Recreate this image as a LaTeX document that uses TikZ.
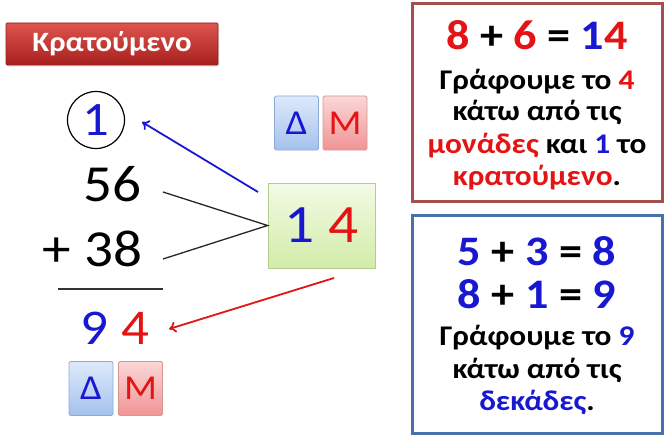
\documentclass[tikz,border=0pt]{standalone}
\usepackage{fontspec}
\setmainfont{Carlito}[FakeStretch=1.1]
\usetikzlibrary{arrows.meta,shadows}
\definecolor{myred}{RGB}{228,20,20}
\definecolor{myblue}{RGB}{24,24,210}
\definecolor{bannerTop}{RGB}{222,84,78}
\definecolor{bannerBot}{RGB}{168,32,30}
\definecolor{dTop}{RGB}{222,233,250}
\definecolor{dBot}{RGB}{164,194,236}
\definecolor{dBorder}{RGB}{140,170,215}
\definecolor{mTop}{RGB}{250,215,215}
\definecolor{mBot}{RGB}{240,148,148}
\definecolor{mBorder}{RGB}{215,150,148}
\definecolor{gTop}{RGB}{244,250,230}
\definecolor{gBot}{RGB}{210,236,168}
\definecolor{gBorder}{RGB}{180,204,142}
\definecolor{redFrame}{RGB}{165,80,78}
\definecolor{blueFrame}{RGB}{74,112,170}
\begin{document}
\begin{tikzpicture}[x=1pt,y=-1pt,
  digit/.style={font=\fontsize{52}{60}\selectfont, inner sep=0},
  lbox/.style={minimum width=44, minimum height=54, inner sep=0, rounded corners=1.5, font=\fontsize{35}{40}\selectfont, line width=0.8},
  dbox/.style={lbox, top color=dTop, bottom color=dBot, draw=dBorder, text=myblue},
  mbox/.style={lbox, top color=mTop, bottom color=mBot, draw=mBorder, text=myred},
  eqn/.style={font=\fontsize{42}{48}\selectfont\bfseries, anchor=base, inner sep=0},
  txt/.style={font=\fontsize{28.5}{32}\selectfont\bfseries, anchor=base, inner sep=0},
  frame/.style={line width=3, minimum width=250, minimum height=197, inner sep=0, fill=white},
  thinline/.style={line width=1.3, draw=black!85},
  arr/.style={line width=1.8, -{To[length=7pt,width=11pt]}}
]
\useasboundingbox (0,0) rectangle (667,436);

% banner
\node[minimum width=212, minimum height=42, inner sep=0, top color=bannerTop, bottom color=bannerBot,
      draw=bannerBot!90!black, line width=0.6, rounded corners=1,
      drop shadow={shadow xshift=1pt, shadow yshift=-1.5pt, opacity=0.3},
      text=white, font=\fontsize{28}{32}\selectfont\bfseries] (banner) at (112,44) {Κρατούμενο};

% left column
\node[draw, circle, line width=1.2, minimum size=57, inner sep=0] (carry) at (96,120) {};
\node[digit, font=\fontsize{48}{56}\selectfont, text=myblue] (one) at (96,120) {1};
\node[digit] (n56) at (112.5,184) {56};
\node[digit] (n38) at (92.5,249) {+ 38};
\coordinate (barL) at (58,289);
\coordinate (barR) at (163,289);
\draw[line width=1.3, black!80] (barL) -- (barR);
\node[digit, font=\fontsize{50}{56}\selectfont] (res) at (115,328) {\textcolor{myblue}{9} \textcolor{myred}{4}};

\node[dbox] (d2) at (91,388.5) {Δ};
\node[mbox] (m2) at (140.5,388.5) {Μ};

% top boxes
\node[dbox] (d1) at (296.5,123) {Δ};
\node[mbox] (m1) at (345,123) {Μ};

% green box
\node[minimum width=107, minimum height=85, inner sep=0, top color=gTop, bottom color=gBot, draw=gBorder,
      line width=0.8, font=\fontsize{54}{60}\selectfont] (sum) at (321.5,225.5) {\textcolor{myblue}{1} \textcolor{myred}{4}};

% connectors
\coordinate (s56) at (163,192);
\coordinate (s38) at (163,259);
\draw[thinline] (s56) -- (sum.west) -- (s38);

\coordinate (bStart) at (258,192);
\coordinate (bEnd) at (142,122);
\draw[arr, myblue] (bStart) -- (bEnd);

\coordinate (rStart) at (334,278);
\coordinate (rEnd) at (169,329);
\draw[arr, myred] (rStart) -- (rEnd);

% right top frame
\node[frame, draw=redFrame] (tbox) at (537.5,102.5) {};
\node[eqn] (e1) at (537,50) {\textcolor{myred}{8} + \textcolor{myred}{6} = \textcolor{myblue}{1}\textcolor{myred}{4}};
\node[txt] (t1) at (537,90) {Γράφουμε το \textcolor{myred}{4}};
\node[txt] (t2) at (537,121) {κάτω από τις};
\node[txt] (t3) at (537,153) {\textcolor{myred}{μονάδες} και \textcolor{myblue}{1} το};
\node[txt] (t4) at (537,185) {\textcolor{myred}{κρατούμενο}.};

% right bottom frame
\node[frame, draw=blueFrame, minimum height=218] (bbox) at (537.5,324) {};
\node[eqn] (e2) at (537,265) {\textcolor{myblue}{5} + \textcolor{myblue}{3} = \textcolor{myblue}{8}};
\node[eqn] (e3) at (537,308) {\textcolor{myblue}{8} + \textcolor{myblue}{1} = \textcolor{myblue}{9}};
\node[txt] (t5) at (537,345) {Γράφουμε το \textcolor{myblue}{9}};
\node[txt] (t6) at (537,378) {κάτω από τις};
\node[txt] (t7) at (537,410) {\textcolor{myblue}{δεκάδες}.};
\end{tikzpicture}
\end{document}
